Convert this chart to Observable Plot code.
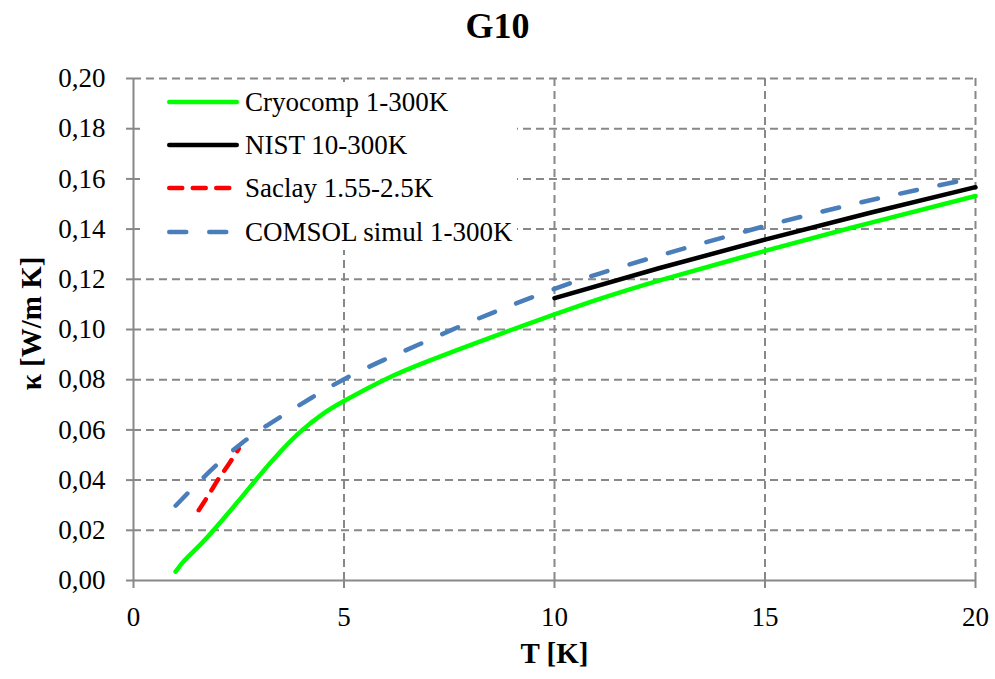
<!DOCTYPE html>
<html><head><meta charset="utf-8">
<script src="https://cdn.jsdelivr.net/npm/d3@7"></script>
<script src="https://cdn.jsdelivr.net/npm/@observablehq/plot@0.6"></script>
<style>
body{margin:0;background:#fff;font-family:"Liberation Serif","Times New Roman",serif;}
#wrap{position:relative;width:995px;height:679px;overflow:hidden;}
#title{height:60px;font-size:36px;font-weight:bold;text-align:center;line-height:36px;padding-top:8px;box-sizing:border-box;}
#legend{position:absolute;left:140px;top:82px;width:377px;height:168px;background:#fff;}
.ltext{position:absolute;left:105px;height:30px;line-height:30px;font-size:27px;white-space:nowrap;color:#000;font-family:"Liberation Serif","Times New Roman",serif;}
.lsvg{position:absolute;left:25px;}
</style></head><body>
<div id="wrap"><div id="title">G10</div><div id="chart"></div><div id="legend"></div></div>
<script>
// ---- data ----
const cryoT = [1, 1.15, 1.3, 1.6, 1.9, 2.5, 3, 3.5, 4, 4.5, 5, 6, 7, 8, 9, 10, 11, 12.5, 15, 17.5, 20];
const cryoK = [0.0035, 0.0068, 0.0095, 0.0145, 0.0200, 0.0318, 0.0420, 0.0515, 0.0598, 0.0664, 0.0715, 0.0803, 0.0874, 0.0938, 0.1000, 0.1060, 0.1118, 0.1196, 0.1313, 0.1425, 0.1532];
const nistT = [10, 12.5, 15, 17.5, 20];
const nistK = [0.1125, 0.1245, 0.1358, 0.1465, 0.1567];
const saclayT = [1.55, 1.8, 2.0, 2.25, 2.5];
const saclayK = [0.028, 0.0345, 0.040, 0.046, 0.0525];
const comsolT = [1, 1.66, 2.54, 3.41, 4.24, 5.07, 5.95, 6.75, 7.69, 8.64, 9.43, 10.3, 11.05, 12.5, 15, 17.5, 20];
const comsolK = [0.0298, 0.041, 0.0543, 0.0643, 0.0729, 0.0808, 0.0879, 0.0938, 0.1008, 0.1074, 0.1126, 0.1180, 0.1222, 0.1295, 0.1412, 0.1515, 0.1605];
const seriesNames = ["Cryocomp 1-300K", "NIST 10-300K", "Saclay 1.55-2.5K", "COMSOL simul 1-300K"];
const xTicks = [0, 5, 10, 15, 20];
const yTicks = [0, 0.02, 0.04, 0.06, 0.08, 0.10, 0.12, 0.14, 0.16, 0.18, 0.20];
const titleText = "G10";
const xLabel = "T [K]";
const yLabel = "κ [W/m K]";

// ---- styles ----
const seriesStyles = [
  {stroke: "#00ff00", strokeWidth: 4.5, dash: null, curve: "natural"},
  {stroke: "#000000", strokeWidth: 4.5, dash: null, curve: "monotone-x"},
  {stroke: "#ff0000", strokeWidth: 4.5, dash: "13,10.5", curve: "monotone-x"},
  {stroke: "#4a7ebb", strokeWidth: 4.5, dash: "17,23", curve: "natural"}
];
const seriesData = [[cryoT, cryoK], [nistT, nistK], [saclayT, saclayK], [comsolT, comsolK]];
const toRows = (T, K) => T.map((t, i) => ({T: t, K: K[i]}));
const fmt = d => d3.format(".2f")(d).replace(".", ",");
const gridStyle = {stroke: "#888", strokeOpacity: 1, strokeWidth: 2, strokeDasharray: "8,5"};

document.getElementById("title").textContent = titleText;

const lineMarks = seriesData.map(([T, K], i) => Plot.line(toRows(T, K), {
  x: "T", y: "K", curve: seriesStyles[i].curve,
  stroke: seriesStyles[i].stroke, strokeWidth: seriesStyles[i].strokeWidth,
  strokeDasharray: seriesStyles[i].dash, strokeLinecap: "round", strokeLinejoin: "round"
}));

const chart = Plot.plot({
  width: 995, height: 619,
  marginTop: 18, marginBottom: 99, marginLeft: 133, marginRight: 20,
  style: {fontFamily: "'Liberation Serif', 'Times New Roman', serif", fontSize: "27px", color: "#000", background: "#fff", overflow: "visible"},
  x: {domain: [0, 20]},
  y: {domain: [0, 0.2]},
  marks: [
    Plot.gridX(xTicks.filter(t => t > 0), gridStyle),
    Plot.gridY(yTicks.filter(t => t > 0), gridStyle),
    ...lineMarks,
    Plot.ruleY([0], {stroke: "#888", strokeWidth: 2}),
    Plot.ruleX([0], {stroke: "#888", strokeWidth: 2}),
    Plot.axisX(xTicks, {tickSize: 8, tickPadding: 18, stroke: "#888", strokeWidth: 2, fill: "#000", fontSize: 27, label: null}),
    Plot.axisY(yTicks, {tickSize: 7, tickPadding: 21, stroke: "#888", strokeWidth: 2, fill: "#000", fontSize: 27, tickFormat: fmt, label: null}),
    Plot.text([xLabel], {text: d => d, frameAnchor: "bottom", textAnchor: "middle", dy: 73, lineAnchor: "middle", fontSize: 29, fontWeight: "bold"}),
    Plot.text([yLabel], {text: d => d, frameAnchor: "left", textAnchor: "middle", dx: -102, dy: -6, rotate: -90, lineAnchor: "middle", fontSize: 29, fontWeight: "bold"})
  ]
});
document.getElementById("chart").appendChild(chart);

// ---- legend ----
const legend = document.getElementById("legend");
const rowCenters = [20, 63, 106, 150];
seriesNames.forEach((name, i) => {
  const cy = rowCenters[i];
  const s = seriesStyles[i];
  const svg = d3.create("svg").attr("class", "lsvg").attr("width", 76).attr("height", 20)
    .style("top", (cy - 10) + "px");
  svg.append("line").attr("x1", 4.25).attr("x2", 71.75).attr("y1", 10).attr("y2", 10)
    .attr("stroke", s.stroke).attr("stroke-width", s.strokeWidth)
    .attr("stroke-linecap", "round").attr("stroke-dasharray", s.dash);
  legend.appendChild(svg.node());
  const t = document.createElement("div");
  t.className = "ltext";
  t.style.top = (cy - 15) + "px";
  t.textContent = name;
  legend.appendChild(t);
});
</script>
</body></html>
